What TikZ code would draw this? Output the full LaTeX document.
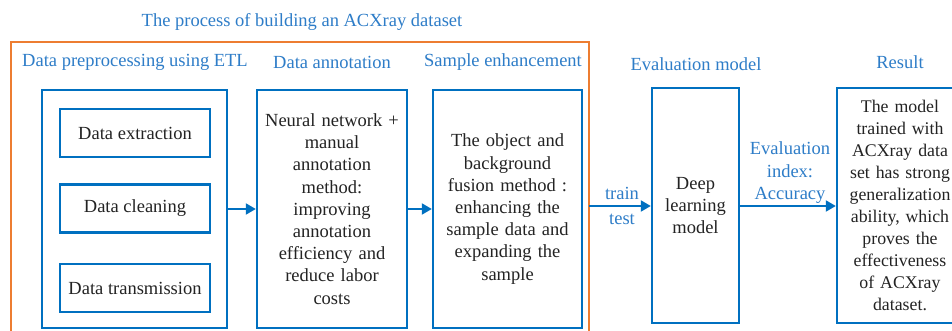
\documentclass[tikz,border=0pt]{standalone}
\usepackage{fontspec}
\setmainfont{Liberation Serif}
\usetikzlibrary{arrows.meta}
\definecolor{bblue}{RGB}{0,112,192}
\definecolor{lblue}{RGB}{46,125,200}
\definecolor{borange}{RGB}{237,125,49}
\definecolor{tgray}{RGB}{35,35,35}
\tikzset{
  bbox/.style={draw=bblue, line width=2.4pt, fill=white},
  btext/.style={text=tgray, font=\fontsize{18.5}{22.2}\selectfont, align=center},
  rtext/.style={text=tgray, font=\fontsize{17.8}{22}\selectfont, align=center},
  lab/.style={text=lblue, font=\fontsize{18.5}{22.5}\selectfont, align=center},
  arr/.style={draw=bblue, line width=2pt, -{Triangle[length=10pt,width=11pt]}}
}
\begin{document}
\begin{tikzpicture}[x=1pt,y=-1pt]
\useasboundingbox (0,0) rectangle (952,331);
\clip (0,0) rectangle (952,331);
\fill[white] (0,0) rectangle (952,331);
% title
\node[lab] (title) at (302,22) {The process of building an ACXray dataset};
% orange frame
\draw[draw=borange, line width=2pt] (11,360) -- (11,42) -- (589,42) -- (589,360);
% section labels
\node[lab] (l1) at (135,62) {Data preprocessing using ETL};
\node[lab] (l2) at (332,62) {Data annotation};
\node[lab] (l3) at (503,62) {Sample enhancement};
\node[lab] (l4) at (696,64) {Evaluation model};
\node[lab] (l5) at (900,62) {Result};
% box 1
\draw[bbox] (42,90) rectangle (227,328);
\node[bbox, btext, minimum width=150pt, minimum height=48pt] (ext) at (135,133) {Data extraction};
\node[bbox, btext, minimum width=150pt, minimum height=48pt] (cln) at (135,208.5) {Data cleaning};
\node[bbox, btext, minimum width=150pt, minimum height=48pt] (trn) at (135,288) {Data transmission};
\coordinate (b1r) at (227,209);
% box 2
\node[bbox, btext, minimum width=150pt, minimum height=238pt, text width=146pt, inner sep=0pt] (ann) at (332,209)
 {Neural network +\\manual\\annotation\\method:\\improving\\annotation\\efficiency and\\reduce labor\\costs};
% box 3
\node[bbox, btext, minimum width=149pt, minimum height=238pt, text width=146pt, inner sep=0pt] (enh) at (507.5,209)
 {The object and\\background\\fusion method :\\enhancing the\\sample data and\\expanding the\\sample};
% deep learning
\node[bbox, btext, minimum width=87pt, minimum height=235pt, text width=84pt, inner sep=0pt] (dl) at (695.5,205.5)
 {Deep\\learning\\model};
% result
\node[bbox, rtext, minimum width=126pt, minimum height=235pt, text width=124pt, inner sep=0pt] (res) at (900,205.5)
 {The model\\trained with\\ACXray data\\set has strong\\generalization\\ability, which\\proves the\\effectiveness\\of ACXray\\dataset.};
\coordinate (orr) at (589,206);
% arrows
\draw[arr] (b1r) -- (ann.west |- b1r);
\draw[arr] (ann.east |- b1r) -- (enh.west |- b1r);
\draw[arr] (orr) -- (dl.west |- orr);
\draw[arr] (dl.east |- orr) -- (res.west |- orr);
% arrow labels
\node[lab] (train) at (622,193) {train};
\node[lab] (test) at (622,219) {test};
\node[lab, anchor=south, inner sep=1pt] (eval) at (790,205) {Evaluation\\index:\\Accuracy};
\end{tikzpicture}
\end{document}
